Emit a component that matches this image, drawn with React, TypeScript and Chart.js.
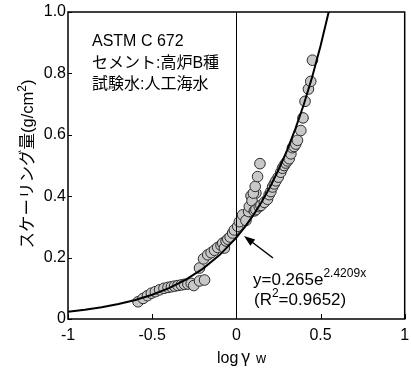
import React, { useEffect, useRef } from "react";
import { Chart, registerables } from "chart.js";
Chart.register(...registerables);

// measured points: log γw vs scaling amount (g/cm2)
const logGammaW = [
  -0.584, -0.554, -0.528, -0.505, -0.481, -0.456, -0.43, -0.406, -0.386, -0.367,
  -0.347, -0.327, -0.308, -0.288, -0.268, -0.253, -0.219, -0.189, -0.219, -0.195,
  -0.17, -0.15, -0.13, -0.111, -0.091, -0.081, -0.071, -0.061, -0.051, -0.037,
  -0.022, -0.012, 0.008, 0.018, 0.037, 0.057, 0.073, 0.087, 0.097, 0.087,
  0.116, 0.077, 0.093, 0.101, 0.112, 0.126, 0.14, 0.107, 0.116, 0.136,
  0.146, 0.166, 0.185, 0.195, 0.205, 0.215, 0.225, 0.235, 0.249, 0.264,
  0.274, 0.284, 0.294, 0.304, 0.314, 0.324, 0.333, 0.343, 0.353, 0.363,
  0.383, 0.396, 0.408, 0.428, 0.442, 0.452,
];
const scaling = [
  0.056, 0.067, 0.076, 0.084, 0.089, 0.095, 0.1, 0.103, 0.105, 0.107,
  0.109, 0.111, 0.113, 0.114, 0.116, 0.109, 0.124, 0.127, 0.166, 0.196,
  0.209, 0.216, 0.224, 0.233, 0.24, 0.247, 0.231, 0.254, 0.26, 0.267,
  0.28, 0.29, 0.302, 0.317, 0.339, 0.321, 0.35, 0.364, 0.377, 0.401,
  0.41, 0.366, 0.385, 0.41, 0.432, 0.464, 0.506, 0.352, 0.356, 0.366,
  0.37, 0.38, 0.39, 0.405, 0.415, 0.43, 0.44, 0.45, 0.462, 0.478,
  0.491, 0.5, 0.508, 0.515, 0.522, 0.538, 0.558, 0.562, 0.57, 0.582,
  0.614, 0.655, 0.709, 0.749, 0.774, 0.843,
];

// regression y = a * e^(b x)
const fitA = 0.265;
const fitB = 2.4209;
const fitX = [
  -1, -0.9, -0.8, -0.7, -0.6, -0.5, -0.4, -0.3, -0.2, -0.1, 0, 0.05, 0.1, 0.15,
  0.2, 0.25, 0.3, 0.35, 0.4, 0.45, 0.5, 0.55, 0.6,
];

const xTicks = [-1, -0.5, 0, 0.5, 1];
const xTickLabels = ["-1", "-0.5", "0", "0.5", "1"];
const yTicks = [0, 0.2, 0.4, 0.6, 0.8, 1.0];
const yTickLabels = ["0", "0.2", "0.4", "0.6", "0.8", "1.0"];
const notes = ["ASTM C 672", "セメント:高炉B種", "試験水:人工海水"];

const LAT = "'Liberation Sans', Arial, 'Noto Sans CJK JP', sans-serif";

export default function App() {
  const ref = useRef<HTMLCanvasElement | null>(null);
  useEffect(() => {
    const canvas = ref.current;
    if (!canvas) return;
    const overlay = {
      id: "overlay",
      afterDraw(chart: any) {
        const ctx = chart.ctx as CanvasRenderingContext2D;
        const xs = chart.scales.x;
        const ys = chart.scales.y;
        const { left, right, top, bottom } = chart.chartArea;
        ctx.save();
        ctx.strokeStyle = "#000";
        ctx.fillStyle = "#000";
        // frame
        ctx.lineWidth = 1.5;
        ctx.strokeRect(left, top, right - left, bottom - top);
        // x = 0 line
        ctx.lineWidth = 1;
        const x0 = Math.round(xs.getPixelForValue(0)) + 0.5;
        ctx.beginPath();
        ctx.moveTo(x0, top);
        ctx.lineTo(x0, bottom);
        ctx.stroke();
        // ticks
        ctx.beginPath();
        xTicks.forEach((v) => {
          const p = Math.round(xs.getPixelForValue(v)) + 0.5;
          ctx.moveTo(p, bottom);
          ctx.lineTo(p, bottom - 5);
        });
        yTicks.forEach((v) => {
          const p = Math.round(ys.getPixelForValue(v)) + 0.5;
          ctx.moveTo(left, p);
          ctx.lineTo(left + 4, p);
        });
        ctx.stroke();
        // tick labels
        ctx.font = `16px ${LAT}`;
        ctx.textAlign = "center";
        ctx.textBaseline = "middle";
        xTicks.forEach((v, i) => {
          ctx.fillText(xTickLabels[i], xs.getPixelForValue(v), bottom + 17);
        });
        ctx.textAlign = "right";
        yTicks.forEach((v, i) => {
          ctx.fillText(yTickLabels[i], left - 2, ys.getPixelForValue(v));
        });
        // x title
        ctx.textAlign = "left";
        ctx.textBaseline = "alphabetic";
        const by = 363;
        ctx.font = `16px ${LAT}`;
        ctx.fillText("log", 217, by);
        ctx.font = `17px 'Noto Sans CJK JP', ${LAT}`;
        ctx.fillText("γ", 241, by);
        ctx.font = `14px ${LAT}`;
        ctx.fillText("w", 256, by);
        // y title (rotated)
        ctx.save();
        ctx.translate(33, 164);
        ctx.rotate(-Math.PI / 2);
        const a1 = "スケーリング量(g/cm";
        const a2 = "2";
        const a3 = ")";
        ctx.font = `16.5px ${LAT}`;
        const m1 = ctx.measureText(a1).width;
        const m3 = ctx.measureText(a3).width;
        ctx.font = `12px ${LAT}`;
        const m2 = ctx.measureText(a2).width;
        let ax = -(m1 + m2 + m3) / 2;
        ctx.font = `16.5px ${LAT}`;
        ctx.fillText(a1, ax, 0);
        ax += m1;
        ctx.font = `12px ${LAT}`;
        ctx.fillText(a2, ax, -7);
        ax += m2;
        ctx.font = `16.5px ${LAT}`;
        ctx.fillText(a3, ax, 0);
        ctx.restore();
        // notes
        ctx.font = `16px ${LAT}`;
        ctx.textBaseline = "middle";
        notes.forEach((s, i) => {
          ctx.fillText(s, 92, 42 + i * 21.5);
        });
        // equation
        ctx.textBaseline = "alphabetic";
        const e1 = "y=0.265e";
        const e2 = "2.4209x";
        ctx.font = `17px ${LAT}`;
        ctx.fillText(e1, 253, 285);
        const we1 = ctx.measureText(e1).width;
        ctx.font = `12px ${LAT}`;
        ctx.fillText(e2, 253 + we1, 277);
        const r1 = "(R";
        const r2 = "2";
        const r3 = "=0.9652)";
        ctx.font = `17px ${LAT}`;
        ctx.fillText(r1, 254, 305);
        const wr1 = ctx.measureText(r1).width;
        ctx.font = `12px ${LAT}`;
        ctx.fillText(r2, 254 + wr1, 297);
        const wr2 = ctx.measureText(r2).width;
        ctx.font = `17px ${LAT}`;
        ctx.fillText(r3, 254 + wr1 + wr2, 305);
        // arrow
        const ax0 = 273, ay0 = 258, ax1 = 244, ay1 = 236;
        ctx.lineWidth = 1.5;
        ctx.beginPath();
        ctx.moveTo(ax0, ay0);
        ctx.lineTo(ax1 + 6, ay1 + 4.5);
        ctx.stroke();
        const ang = Math.atan2(ay1 - ay0, ax1 - ax0);
        const hl = 11, hw = 4;
        ctx.beginPath();
        ctx.moveTo(ax1, ay1);
        ctx.lineTo(ax1 - hl * Math.cos(ang) + hw * Math.sin(ang), ay1 - hl * Math.sin(ang) - hw * Math.cos(ang));
        ctx.lineTo(ax1 - hl * Math.cos(ang) - hw * Math.sin(ang), ay1 - hl * Math.sin(ang) + hw * Math.cos(ang));
        ctx.closePath();
        ctx.fill();
        ctx.restore();
      },
    };
    const chart = new Chart(canvas, {
      type: "scatter",
      data: {
        datasets: [
          {
            label: "data",
            data: logGammaW.map((x, i) => ({ x, y: scaling[i] })),
            pointRadius: 5.3,
            pointBackgroundColor: "#c8c8c8",
            pointBorderColor: "#2a2a2a",
            pointBorderWidth: 1,
            order: 2,
          },
          {
            type: "line",
            label: "fit",
            data: fitX.map((x) => ({ x, y: fitA * Math.exp(fitB * x) })),
            borderColor: "#000",
            borderWidth: 2,
            pointRadius: 0,
            tension: 0,
            fill: false,
            clip: 0,
            order: 1,
          } as any,
        ],
      },
      options: {
        responsive: false,
        animation: false,
        devicePixelRatio: 1,
        layout: { padding: { left: 68, top: 12, right: 5, bottom: 50 } },
        plugins: { legend: { display: false }, tooltip: { enabled: false } },
        scales: {
          x: { type: "linear", min: -1, max: 1, display: false },
          y: { type: "linear", min: 0, max: 1, display: false },
        },
      },
      plugins: [overlay],
    });
    return () => chart.destroy();
  }, []);
  return (
    <canvas
      ref={ref}
      width={411}
      height={369}
      style={{ position: "absolute", left: 0, top: 0, width: 411, height: 369, background: "#fff" }}
    />
  );
}
